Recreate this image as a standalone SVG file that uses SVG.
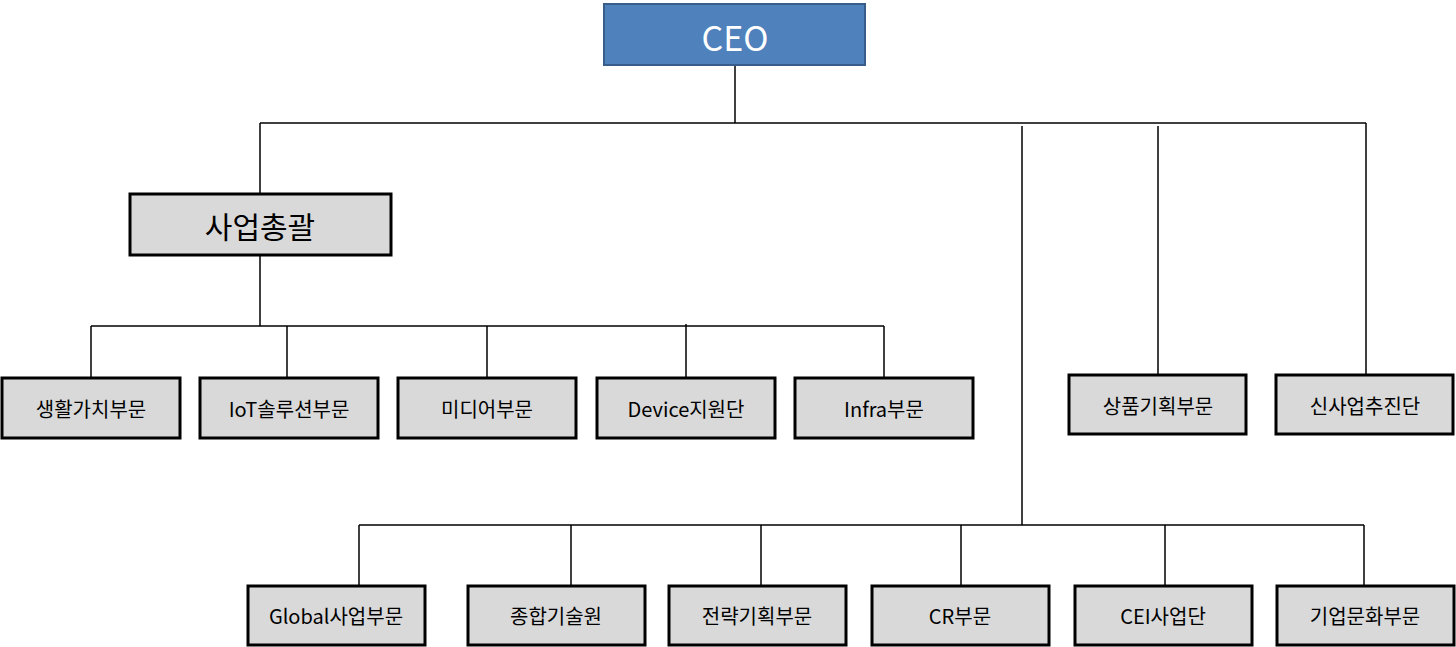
<svg xmlns="http://www.w3.org/2000/svg" width="1456" height="647" viewBox="0 0 1456 647">
<style>
.b{fill:#d9d9d9;stroke:#000;stroke-width:3}
.t{font-family:"Noto Sans CJK KR","Noto Sans",sans-serif;font-size:20px;text-anchor:middle;dominant-baseline:central;fill:#000}
.c line{stroke:#000;stroke-width:1.5}
</style>
<rect width="1456" height="647" fill="#fff"/>
<g class="c">
<line x1="735" y1="65" x2="735" y2="123"/>
<line x1="260" y1="123" x2="1366" y2="123"/>
<line x1="260" y1="123" x2="260" y2="194"/>
<line x1="1022" y1="126" x2="1022" y2="525"/>
<line x1="1158" y1="126" x2="1158" y2="375"/>
<line x1="1366" y1="123" x2="1366" y2="375"/>
<line x1="260" y1="255" x2="260" y2="326"/>
<line x1="91" y1="326" x2="884" y2="326"/>
<line x1="91" y1="326" x2="91" y2="378"/>
<line x1="287" y1="326" x2="287" y2="378"/>
<line x1="487" y1="326" x2="487" y2="378"/>
<line x1="686" y1="324" x2="686" y2="378"/>
<line x1="884" y1="326" x2="884" y2="378"/>
<line x1="359" y1="525" x2="1364" y2="525"/>
<line x1="359" y1="525" x2="359" y2="586"/>
<line x1="571" y1="525" x2="571" y2="586"/>
<line x1="761" y1="525" x2="761" y2="586"/>
<line x1="961" y1="525" x2="961" y2="586"/>
<line x1="1165" y1="525" x2="1165" y2="586"/>
<line x1="1364" y1="525" x2="1364" y2="586"/>
</g>
<g id="ceo"><rect x="604" y="4" width="261" height="61" fill="#4f81bd" stroke="#385d8a" stroke-width="2"/><text class="t" x="735" y="36" style="font-size:34px;fill:#fff">CEO</text></g>
<g id="n0"><rect class="b" x="130" y="194" width="261" height="61"/><text class="t" x="260" y="225" style="font-size:30px">사업총괄</text></g>
<g id="n1"><rect class="b" x="2" y="378" width="178" height="60"/><text class="t" x="91" y="408">생활가치부문</text></g>
<g id="n2"><rect class="b" x="200" y="378" width="178" height="60"/><text class="t" x="289" y="408">IoT솔루션부문</text></g>
<g id="n3"><rect class="b" x="398" y="378" width="178" height="60"/><text class="t" x="487" y="408">미디어부문</text></g>
<g id="n4"><rect class="b" x="597" y="378" width="178" height="60"/><text class="t" x="686" y="408">Device지원단</text></g>
<g id="n5"><rect class="b" x="795" y="378" width="178" height="60"/><text class="t" x="884" y="408">Infra부문</text></g>
<g id="n6"><rect class="b" x="1069" y="375" width="177" height="59"/><text class="t" x="1158" y="405">상품기획부문</text></g>
<g id="n7"><rect class="b" x="1276" y="375" width="177" height="59"/><text class="t" x="1365" y="405">신사업추진단</text></g>
<g id="n8"><rect class="b" x="248" y="586" width="177" height="59"/><text class="t" x="336" y="615">Global사업부문</text></g>
<g id="n9"><rect class="b" x="468" y="586" width="177" height="59"/><text class="t" x="556" y="615">종합기술원</text></g>
<g id="n10"><rect class="b" x="669" y="586" width="177" height="59"/><text class="t" x="757" y="615">전략기획부문</text></g>
<g id="n11"><rect class="b" x="872" y="586" width="177" height="59"/><text class="t" x="960" y="615">CR부문</text></g>
<g id="n12"><rect class="b" x="1075" y="586" width="177" height="59"/><text class="t" x="1163" y="615">CEI사업단</text></g>
<g id="n13"><rect class="b" x="1277" y="586" width="177" height="59"/><text class="t" x="1365" y="615">기업문화부문</text></g>
</svg>
